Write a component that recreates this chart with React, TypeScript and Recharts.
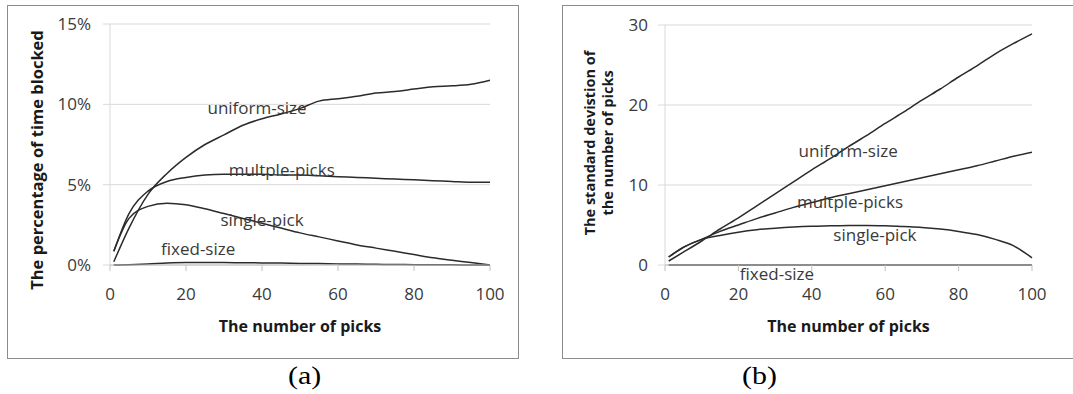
import {
  CartesianGrid,
  Label,
  Line,
  LineChart,
  ReferenceDot,
  XAxis,
  YAxis,
} from "recharts";

// x values shared by both panels
const picks = [1, 5, 10, 15, 20, 25, 30, 35, 40, 45, 50, 55, 60, 65, 70, 75, 80, 85, 90, 95, 100];

// (a) percentage of time blocked, in %
const blockedUniform = [0.2, 2.3, 4.4, 5.7, 6.7, 7.5, 8.1, 8.7, 9.1, 9.4, 9.75, 10.2, 10.35, 10.5, 10.7, 10.8, 10.95, 11.1, 11.15, 11.25, 11.5];
const blockedMultiple = [0.85, 3.2, 4.6, 5.2, 5.45, 5.6, 5.65, 5.65, 5.65, 5.6, 5.6, 5.55, 5.5, 5.45, 5.4, 5.35, 5.3, 5.25, 5.2, 5.15, 5.15];
const blockedSingle = [0.85, 2.9, 3.65, 3.85, 3.75, 3.5, 3.2, 2.9, 2.6, 2.3, 2.0, 1.75, 1.5, 1.25, 1.05, 0.85, 0.65, 0.45, 0.3, 0.15, 0.0];
const blockedFixed = [0, 0.02, 0.06, 0.12, 0.15, 0.15, 0.15, 0.14, 0.13, 0.12, 0.1, 0.09, 0.07, 0.06, 0.04, 0.03, 0.02, 0.01, 0.01, 0, 0];

// (b) standard deviation of the number of picks
const stdUniform = [0.5, 1.6, 3.0, 4.5, 5.9, 7.4, 8.9, 10.4, 11.9, 13.3, 14.8, 16.2, 17.7, 19.1, 20.6, 22.0, 23.5, 24.9, 26.4, 27.7, 28.9];
const stdMultiple = [1.0, 2.2, 3.2, 4.2, 5.0, 5.8, 6.5, 7.2, 7.8, 8.4, 8.9, 9.4, 9.9, 10.4, 10.9, 11.4, 11.9, 12.4, 13.0, 13.6, 14.1];
const stdSingle = [1.0, 2.2, 3.2, 3.7, 4.1, 4.4, 4.6, 4.75, 4.85, 4.9, 4.95, 4.95, 4.9, 4.8, 4.7, 4.5, 4.2, 3.8, 3.2, 2.4, 0.9];
const stdFixed = [0, 0, 0, 0, 0, 0, 0, 0, 0, 0, 0, 0, 0, 0, 0, 0, 0, 0, 0, 0, 0];

const xTicks = [0, 20, 40, 60, 80, 100];
const blockedTicks = [0, 5, 10, 15];
const stdTicks = [0, 10, 20, 30];

// inline series names: [text, x, y]
const blockedNames: [string, number, number][] = [
  ["uniform-size", 38.7, 9.8],
  ["multple-picks", 45.2, 5.9],
  ["single-pick", 40, 2.8],
  ["fixed-size", 23.2, 1.0],
];
const stdNames: [string, number, number][] = [
  ["uniform-size", 49.9, 14.2],
  ["multple-picks", 50.4, 7.9],
  ["single-pick", 57.2, 3.75],
  ["fixed-size", 30.5, -1.1],
];

const FONT = "'Open Sans', 'Liberation Sans', sans-serif";
const LINE = "#2b2b2b";
const GRID = "#d9d9d9";
const AXIS = "#bfbfbf";
const TEXT = "#3a3a3a";

const blockedData = picks.map((p, i) => ({
  picks: p,
  uniform: blockedUniform[i],
  multiple: blockedMultiple[i],
  single: blockedSingle[i],
  fixed: blockedFixed[i],
}));

const stdData = picks.map((p, i) => ({
  picks: p,
  uniform: stdUniform[i],
  multiple: stdMultiple[i],
  single: stdSingle[i],
  fixed: stdFixed[i],
}));

function yTitle(lines: string[], cx: number, cy: number, size: number) {
  return () => (
    <text
      x={cx}
      y={cy}
      transform={`rotate(-90 ${cx} ${cy})`}
      textAnchor="middle"
      fontFamily={FONT}
      fontWeight="bold"
      fontSize={size}
      fill="#1a1a1a"
    >
      {lines.map((l, i) => (
        <tspan key={l} x={cx} dy={i === 0 ? `${-(lines.length - 1) * 0.6 + 0.35}em` : "1.2em"}>
          {l}
        </tspan>
      ))}
    </text>
  );
}

interface PanelProps {
  data: typeof blockedData;
  yTicks: number[];
  names: [string, number, number][];
  width: number;
  margin: { top: number; right: number; bottom: number; left: number };
  tickFmt: (v: number) => string;
  title: () => JSX.Element;
  tickMargin: number;
}

function Panel({ data, yTicks, names, width, margin, tickFmt, title, tickMargin }: PanelProps) {
  const series = ["uniform", "multiple", "single", "fixed"];
  return (
    <LineChart width={width} height={394} data={data} margin={margin}>
      <CartesianGrid vertical={false} stroke={GRID} />
      <XAxis
        dataKey="picks"
        type="number"
        domain={[0, 100]}
        ticks={xTicks}
        height={30}
        axisLine={{ stroke: AXIS }}
        tickLine={{ stroke: AXIS }}
        tickSize={6}
        tickMargin={17}
        tick={{ fill: TEXT, fontSize: 17, fontFamily: FONT }}
      >
        <Label
          value="The number of picks"
          position="bottom"
          offset={26}
          fill="#1a1a1a"
          fontSize={16}
          fontWeight="bold"
          fontFamily={FONT}
        />
      </XAxis>
      <YAxis
        type="number"
        domain={[yTicks[0], yTicks[yTicks.length - 1]]}
        ticks={yTicks}
        width={60}
        axisLine={{ stroke: GRID }}
        tickLine={{ stroke: GRID }}
        tickSize={7}
        tickMargin={tickMargin}
        tickFormatter={tickFmt}
        tick={{ fill: TEXT, fontSize: 17, fontFamily: FONT }}
      >
        <Label content={title} />
      </YAxis>
      {series.map((key) => (
        <Line
          key={key}
          type="monotone"
          dataKey={key}
          stroke={LINE}
          strokeWidth={1.5}
          dot={false}
          isAnimationActive={false}
        />
      ))}
      {names.map(([text, x, y]) => (
        <ReferenceDot
          key={text}
          x={x}
          y={y}
          r={0}
          fill="none"
          stroke="none"
          ifOverflow="visible"
          label={{ value: text, position: "center", fill: TEXT, fontSize: 17, fontFamily: FONT }}
        />
      ))}
    </LineChart>
  );
}

const caption = {
  position: "absolute" as const,
  top: 361,
  fontFamily: "'Liberation Serif', serif",
  fontSize: 26,
  transform: "scaleX(1.15)",
  transformOrigin: "left top",
};

export default function App() {
  return (
    <div style={{ position: "absolute", left: 0, top: 0, width: 1073, height: 394, background: "#fff" }}>
      <div style={{ position: "absolute", left: 7, top: 5, width: 510, height: 352, border: "1px solid #8c8c8c" }} />
      <div style={{ position: "absolute", left: 562, top: 5, width: 520, height: 352, border: "1px solid #8c8c8c" }} />
      <div style={{ position: "absolute", left: 0, top: 0 }}>
        <Panel
          data={blockedData}
          yTicks={blockedTicks}
          names={blockedNames}
          width={530}
          margin={{ top: 24, right: 40, bottom: 99, left: 50 }}
          tickFmt={(v) => `${v}%`}
          title={yTitle(["The percentage of time blocked"], 37, 160, 16.5)}
          tickMargin={12}
        />
      </div>
      <div style={{ position: "absolute", left: 530, top: 0 }}>
        <Panel
          data={stdData}
          yTicks={stdTicks}
          names={stdNames}
          width={543}
          margin={{ top: 25, right: 41, bottom: 99, left: 75 }}
          tickFmt={(v) => `${v}`}
          title={yTitle(["The standard devistion of", "the  number of picks"], 69, 143, 14.5)}
          tickMargin={10}
        />
      </div>
      <div style={{ ...caption, left: 288 }}>(a)</div>
      <div style={{ ...caption, left: 742 }}>(b)</div>
    </div>
  );
}
